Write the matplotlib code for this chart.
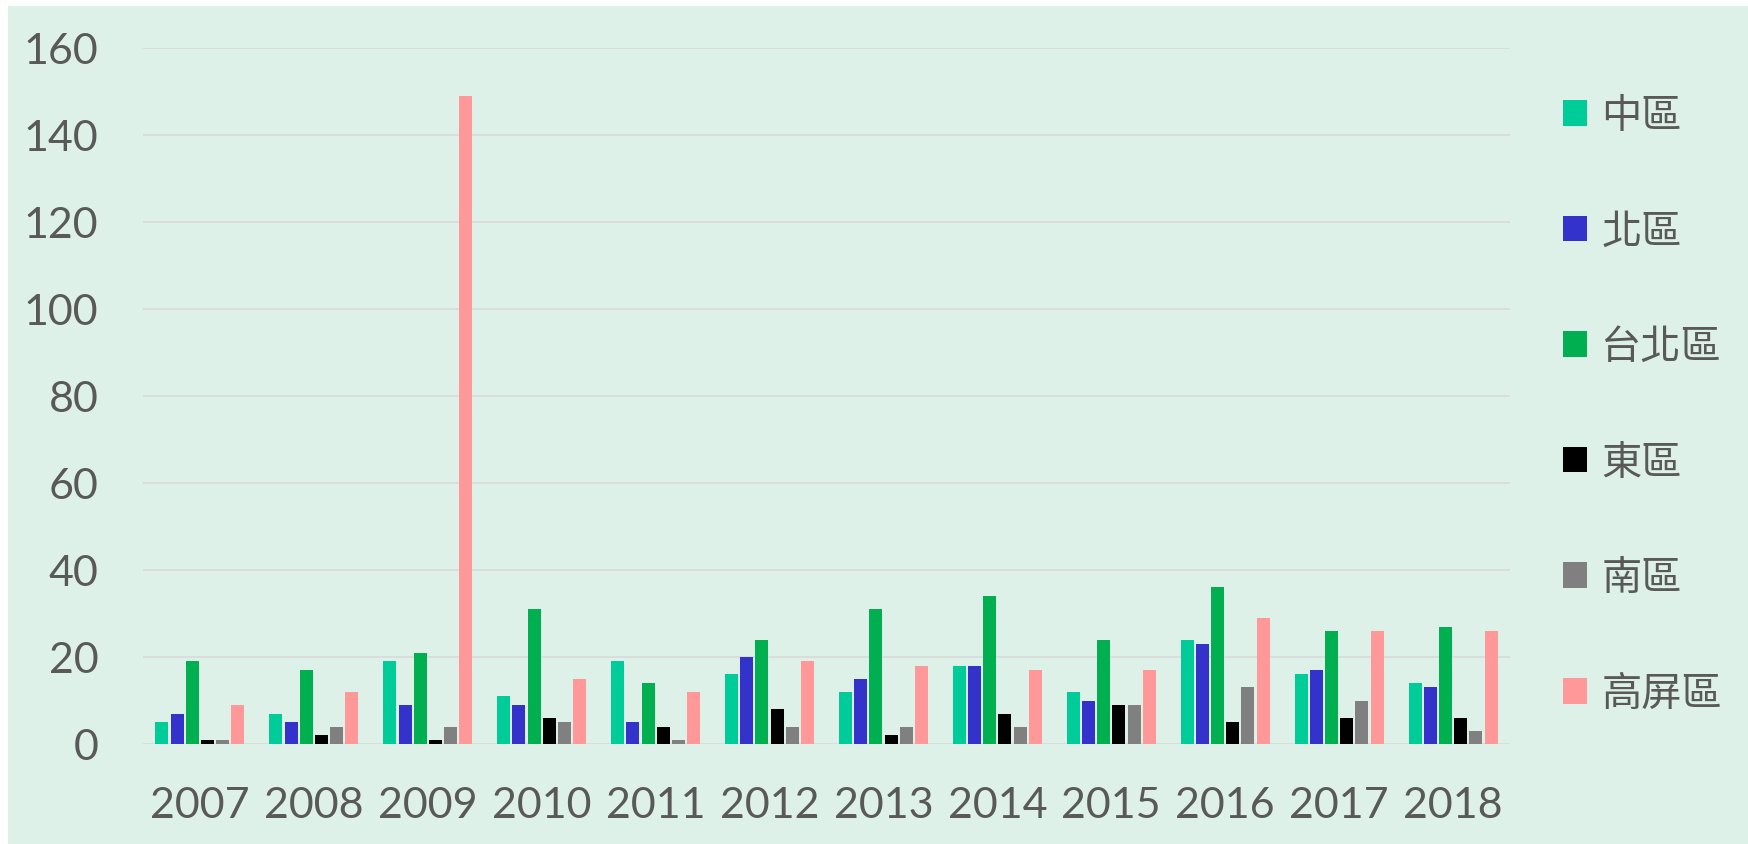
import numpy as np
import matplotlib
matplotlib.use("Agg")
import matplotlib.pyplot as plt
from matplotlib.patches import Rectangle

plt.rcParams['font.family'] = ['Lato', 'Noto Sans CJK TC', 'DejaVu Sans']

years = ['2007', '2008', '2009', '2010', '2011', '2012',
         '2013', '2014', '2015', '2016', '2017', '2018']
regions = ['中區', '北區', '台北區', '東區', '南區', '高屏區']
zhong = [5, 7, 19, 11, 19, 16, 12, 18, 12, 24, 16, 14]
bei = [7, 5, 9, 9, 5, 20, 15, 18, 10, 23, 17, 13]
taipei = [19, 17, 21, 31, 14, 24, 31, 34, 24, 36, 26, 27]
dong = [1, 2, 1, 6, 4, 8, 2, 7, 9, 5, 6, 6]
nan = [1, 4, 4, 5, 1, 4, 4, 4, 9, 13, 10, 3]
gaoping = [9, 12, 149, 15, 12, 19, 18, 17, 17, 29, 26, 26]
series = [zhong, bei, taipei, dong, nan, gaoping]
colors = ['#00CC99', '#3333CC', '#00B050', '#000000', '#808080', '#FF9999']

bg = '#DEF1E8'
txt = '#595959'

fig = plt.figure(figsize=(17.48, 8.45), dpi=100, facecolor='white')
fig.patches.append(Rectangle((8 / 1748, 0), 1, 1 - 7 / 845, transform=fig.transFigure,
                             facecolor=bg, edgecolor='none', zorder=-10))
ax = fig.add_axes([143 / 1748, 100 / 845, (1510 - 143) / 1748, 696 / 845])
ax.set_facecolor(bg)

x = np.arange(len(years))
slot = 0.8 / len(series)
for i, (vals, c, name) in enumerate(zip(series, colors, regions)):
    ax.bar(x - 0.4 + slot * (i + 0.5), vals, width=0.114, color=c, label=name, zorder=3)

ax.set_xlim(-0.5, len(years) - 0.5)
ax.set_ylim(0, 160)
ax.set_yticks(range(0, 161, 20))
ax.set_xticks(x)
ax.set_xticklabels(years)
ax.tick_params(axis='both', length=0, labelsize=31, labelcolor=txt)
ax.tick_params(axis='x', pad=30)
ax.tick_params(axis='y', pad=32)
ax.grid(axis='y', color='#D9D9D9', linewidth=1.2, zorder=0)
for s in ax.spines.values():
    s.set_visible(False)

leg = ax.legend(loc='center left', bbox_to_anchor=(1563 / 1748, 0.52),
                bbox_transform=fig.transFigure, frameon=False, fontsize=29,
                handlelength=0.6, handleheight=0.6, handletextpad=0.35,
                labelspacing=1.95, borderpad=0, borderaxespad=0)
for t in leg.get_texts():
    t.set_color(txt)

fig.savefig('out.png', dpi=100, facecolor=fig.get_facecolor())
